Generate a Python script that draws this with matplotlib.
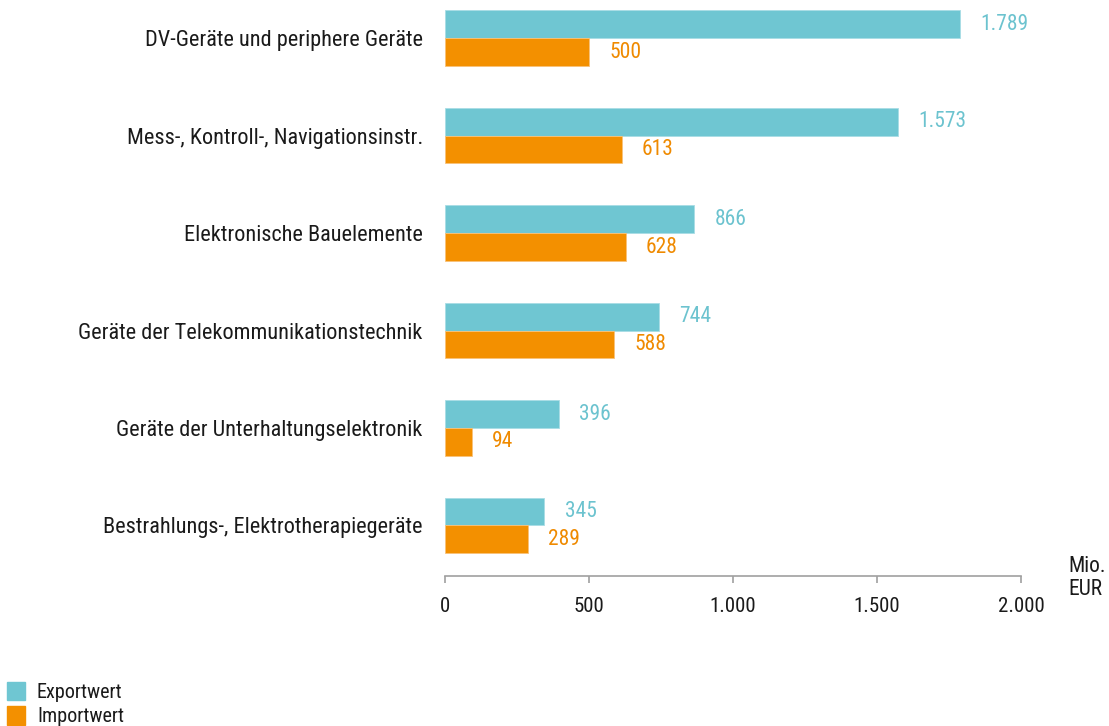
import matplotlib
matplotlib.use('Agg')
import matplotlib.pyplot as plt
from matplotlib.patches import Rectangle

plt.rcParams['font.family'] = ['Roboto Condensed', 'DejaVu Sans']

categories = ['DV-Geräte und periphere Geräte',
              'Mess-, Kontroll-, Navigationsinstr.',
              'Elektronische Bauelemente',
              'Geräte der Telekommunikationstechnik',
              'Geräte der Unterhaltungselektronik',
              'Bestrahlungs-, Elektrotherapiegeräte']
export_vals = [1789, 1573, 866, 744, 396, 345]
import_vals = [500, 613, 628, 588, 94, 289]
xticks = [0, 500, 1000, 1500, 2000]
xtick_labels = ['0', '500', '1.000', '1.500', '2.000']

c_exp = '#6fc6d2'
c_imp = '#f39000'
c_exp_txt = '#6cc3cf'
c_imp_txt = '#ef8a00'
c_text = '#1a1a1a'

def fmt(v):
    return '{:,}'.format(v).replace(',', '.')

fig = plt.figure(figsize=(11.09, 7.26), dpi=100)
ax = fig.add_axes([445/1109, 1 - 576/726, 576/1109, 576/726])

h = 0.287
pos = list(range(len(categories)))
ax.barh([p - h/2 for p in pos], export_vals, height=h, color=c_exp, edgecolor='#a8dde5', linewidth=0.6)
ax.barh([p + h/2 for p in pos], import_vals, height=h, color=c_imp, edgecolor='#f8c27a', linewidth=0.6)

off = 70
for p, v in zip(pos, export_vals):
    ax.text(v + off, p - h/2, fmt(v), color=c_exp_txt, fontsize=15.5, va='center', ha='left')
for p, v in zip(pos, import_vals):
    ax.text(v + off, p + h/2, fmt(v), color=c_imp_txt, fontsize=15.5, va='center', ha='left')

ax.set_xlim(0, 2000)
ax.set_ylim(5.518, -0.390)
ax.set_yticks(pos)
ax.set_yticklabels(categories, fontsize=16, color=c_text)
ax.tick_params(axis='y', length=0, pad=16)
ax.set_xticks(xticks)
ax.set_xticklabels(xtick_labels, fontsize=15, color=c_text)
ax.tick_params(axis='x', length=5, color='#a0a0a0', width=1.2, pad=10)
for s in ['top', 'right', 'left']:
    ax.spines[s].set_visible(False)
ax.spines['bottom'].set_color('#a0a0a0')
ax.spines['bottom'].set_linewidth(1.2)

fig.text(1068/1109, 1 - 578/726, 'Mio.\nEUR', fontsize=15.5, color=c_text, ha='left', va='center', linespacing=1.1)

# legend
fig.patches.append(Rectangle((7/1109, 1 - 700/726), 18/1109, 18/726, transform=fig.transFigure, color=c_exp))
fig.patches.append(Rectangle((7/1109, 1 - 725/726), 18/1109, 19/726, transform=fig.transFigure, color=c_imp))
fig.text(37/1109, 1 - 692/726, 'Exportwert', fontsize=14.5, color=c_text, va='center')
fig.text(37/1109, 1 - 716/726, 'Importwert', fontsize=14.5, color=c_text, va='center')

fig.savefig('out.png', dpi=100)
